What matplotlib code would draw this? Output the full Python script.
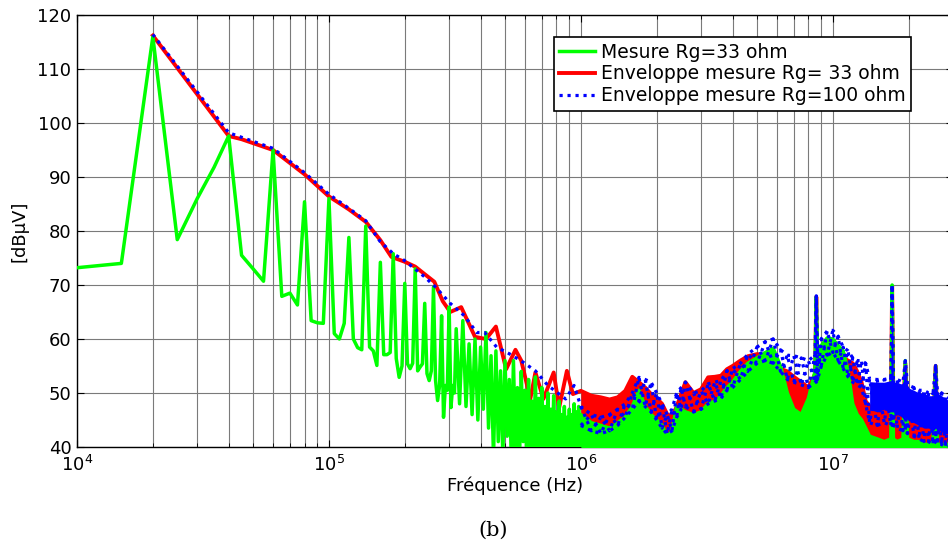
import numpy as np
import matplotlib
matplotlib.use("Agg")
import matplotlib.pyplot as plt
from matplotlib.ticker import LogLocator, FuncFormatter, NullFormatter, MultipleLocator

# --- Mesure Rg=33 ohm, basse fréquence (pas 5 kHz) : kHz / dBµV
f_mes_a = [10, 15, 20, 25, 30, 35, 40, 45, 50, 55, 60, 65, 70, 75, 80, 85, 90, 95,
           100, 105, 110, 115, 120, 125, 130, 135, 140, 145, 150, 155, 160, 165, 170,
           175, 180, 185, 190, 195, 200, 205, 210, 215, 220, 225, 230, 235, 240, 245,
           250, 255, 260, 265, 270, 275, 280, 285, 290, 295, 300, 305, 310, 315, 320]
v_mes_a = [73.2, 74.0, 116.0, 78.4, 86.0, 91.8, 97.6, 75.5, 73.0, 70.7, 95.0, 67.9,
           68.5, 66.3, 85.4, 63.4, 63.0, 62.9, 86.0, 61.0, 60.0, 62.9, 78.8, 60.0, 58.4,
           58.0, 80.9, 58.5, 57.8, 55.1, 74.2, 57.1, 57.1, 57.5, 75.8, 56.4, 52.9, 55.0,
           70.3, 55.4, 54.5, 55.5, 73.0, 54.1, 54.8, 55.4, 66.6, 53.6, 52.3, 54.1, 69.6,
           52.3, 48.6, 51.4, 64.3, 45.5, 51.4, 50.5, 65.9, 47.3, 51.4, 50.0, 61.9]

# --- Mesure Rg=33 ohm, 330 kHz - 1 MHz (creux / pics) : kHz / dBµV
f_mes_b = [330, 340, 350, 360, 370, 380, 390, 400, 410, 420, 430, 440, 450, 460, 470,
           480, 490, 500, 510, 520, 530, 540, 550, 560, 570, 580, 590, 600, 610, 620,
           630, 640, 650, 660, 670, 680, 690, 700, 710, 720, 730, 740, 750, 760, 770,
           780, 790, 800, 810, 820, 830, 840, 850, 860, 870, 880, 890, 900, 910, 920,
           930, 940, 950, 960, 970, 980, 990]
v_mes_b = [48.0, 63.4, 47.5, 59.1, 46.0, 60.0, 45.0, 58.5, 47.0, 61.2, 43.5, 56.9,
           38.0, 57.8, 41.0, 54.1, 38.5, 56.0, 42.0, 52.5, 37.0, 56.0, 40.0, 51.0,
           36.0, 54.0, 41.0, 50.5, 37.0, 52.5, 35.0, 48.5, 38.0, 53.0, 36.0, 49.0,
           38.5, 51.0, 36.0, 47.5, 37.5, 50.0, 35.5, 47.0, 38.0, 49.5, 36.0, 46.5,
           38.0, 48.5, 36.0, 46.0, 39.0, 47.5, 37.0, 45.5, 38.5, 47.0, 37.0, 46.0,
           39.0, 48.0, 37.5, 46.5, 38.0, 47.5, 38.5]

# --- Enveloppe Rg=33 ohm, basse fréquence : kHz / dBµV
f_env33 = [20, 40, 45, 60, 80, 100, 120, 140, 160, 177, 200, 220, 240, 262, 283, 303,
           335, 380, 420, 460, 505, 550, 580, 630, 660, 710, 780, 820, 880, 930]
v_env33 = [116.2, 97.6, 97.0, 95.0, 90.5, 86.4, 84.0, 81.7, 78.3, 75.2, 74.3, 73.4,
           72.0, 70.6, 67.0, 65.0, 65.9, 60.4, 60.0, 62.3, 54.4, 58.0, 56.0, 48.9,
           53.8, 48.9, 53.8, 47.3, 54.1, 49.8]

# --- Enveloppe Rg=100 ohm, basse fréquence : kHz / dBµV
f_env100 = [20, 40, 60, 80, 100, 120, 140, 160, 180, 200, 240, 265, 303, 345, 386,
            415, 463, 523, 590, 660, 740, 820, 870, 940]
v_env100 = [116.4, 98.2, 95.3, 90.8, 86.8, 84.2, 81.9, 78.0, 75.8, 74.5, 71.5, 69.6,
            66.6, 64.3, 61.2, 61.2, 58.5, 57.2, 55.7, 54.1, 51.4, 49.8, 48.9, 51.4]

# --- Haute fréquence (spectre dense) : MHz, bornes haute/basse en dBµV
f_hf = [1.0, 1.1, 1.2, 1.3, 1.4, 1.5, 1.6, 1.7, 1.8, 1.9, 2.0, 2.1, 2.2, 2.3, 2.4,
        2.5, 2.6, 2.8, 3.0, 3.2, 3.4, 3.6, 3.8, 4.0, 4.3, 4.6, 5.0, 5.4, 5.8, 6.2,
        6.6, 7.0, 7.5, 8.0, 8.5, 8.6, 8.7, 9.0, 9.5, 10, 10.5, 11, 11.5, 12, 12.5,
        13, 13.5, 14, 15, 16, 17, 17.2, 17.4, 18, 19, 19.4, 19.8, 21, 22, 23, 24,
        25, 25.6, 26, 27, 28, 29, 30]
mes_top = [46.0, 44.5, 44.0, 43.5, 44.5, 45.5, 47.5, 50.5, 47.5, 46.0, 45.0, 44.0,
           42.0, 43.0, 47.5, 47.0, 46.5, 46.0, 46.5, 48.0, 48.5, 49.5, 51.0, 52.0,
           54.0, 55.5, 56.5, 57.5, 58.3, 55.0, 50.0, 47.0, 46.0, 49.0, 54.0, 67.8,
           56.0, 58.8, 60.2, 60.0, 58.8, 57.8, 54.0, 48.0, 46.0, 45.0, 43.5, 42.0,
           41.5, 41.0, 41.5, 70.0, 41.5, 41.0, 41.5, 56.0, 41.5, 41.0, 41.0, 40.5,
           40.5, 41.0, 55.0, 40.5, 40.5, 40.5, 40.5, 40.5]
env33_top = [50.4, 49.5, 49.2, 48.8, 49.2, 50.4, 53.0, 52.0, 51.0, 49.8, 49.0, 48.0,
             46.1, 45.5, 47.5, 49.8, 52.0, 50.0, 50.7, 52.9, 53.0, 53.2, 54.4, 55.0,
             56.0, 56.8, 57.2, 57.0, 56.0, 54.5, 54.0, 53.0, 52.0, 51.0, 53.5, 67.8,
             53.5, 55.0, 56.6, 55.5, 55.0, 56.5, 56.0, 55.5, 54.0, 52.0, 48.5, 47.5,
             47.5, 47.5, 47.5, 69.8, 47.5, 47.0, 46.5, 55.5, 46.0, 45.5, 45.0, 44.5,
             44.0, 44.0, 55.0, 44.0, 43.5, 43.5, 43.5, 43.5]
env33_bot = [44.0, 43.0, 42.5, 43.0, 44.0, 45.0, 46.0, 47.0, 46.5, 45.0, 44.0, 43.5,
             42.0, 41.5, 42.5, 44.0, 45.5, 45.0, 45.5, 46.5, 47.0, 47.5, 48.0, 49.0,
             50.0, 51.0, 51.0, 50.0, 48.5, 47.0, 46.0, 45.0, 44.5, 44.0, 45.0, 46.0,
             45.0, 46.5, 48.0, 47.5, 46.5, 45.0, 43.5, 42.0, 41.0, 40.0, 39.0, 39.0,
             39.0, 39.0, 39.0, 39.0, 39.0, 39.0, 39.0, 39.0, 39.0, 39.0, 39.0, 39.0,
             39.0, 39.0, 39.0, 39.0, 39.0, 39.0, 39.0, 39.0]
env100_top = [47.5, 46.0, 45.5, 46.0, 47.0, 48.0, 50.0, 52.9, 52.5, 52.0, 50.0, 48.0,
              46.0, 47.0, 50.0, 51.0, 52.0, 50.0, 50.4, 51.7, 52.0, 52.3, 54.1, 54.5,
              55.5, 57.2, 58.5, 59.5, 60.0, 58.0, 57.0, 56.9, 56.5, 56.0, 57.0, 68.0,
              57.5, 60.0, 61.5, 61.6, 60.5, 58.5, 57.8, 56.5, 56.0, 56.0, 55.5, 52.6,
              52.5, 52.5, 52.8, 70.0, 52.5, 52.5, 52.0, 56.0, 51.5, 51.0, 50.5, 50.5,
              50.0, 50.0, 55.1, 50.5, 50.0, 49.5, 49.0, 49.0]
env100_bot = [44.0, 43.0, 42.5, 43.0, 44.0, 45.5, 47.0, 48.5, 47.5, 46.5, 45.0, 43.5,
              42.4, 43.0, 45.5, 47.0, 47.5, 46.5, 47.0, 48.0, 48.5, 49.0, 50.5, 51.0,
              52.5, 54.0, 55.5, 56.0, 55.5, 54.0, 52.5, 52.0, 51.5, 51.0, 52.0, 52.0,
              52.5, 55.0, 57.0, 57.5, 56.0, 54.5, 53.0, 52.0, 51.5, 51.0, 48.0, 44.5,
              44.0, 44.5, 44.0, 44.0, 44.0, 43.5, 43.0, 43.0, 42.5, 42.0, 41.5, 41.0,
              41.0, 40.5, 41.0, 40.5, 40.5, 40.0, 40.0, 40.0]

legend_labels = ['Mesure Rg=33 ohm', 'Enveloppe mesure Rg= 33 ohm',
                 'Enveloppe mesure Rg=100 ohm']

GREEN, RED, BLUE = '#00ff00', '#ff0000', '#0000ff'
DOTS = (0, (1, 1.5))

plt.rcParams['font.family'] = ['DejaVu Sans']

fig = plt.figure(figsize=(9.48, 5.44), dpi=100)
ax = fig.add_axes([77 / 948, 1 - 447 / 544, 876 / 948, 432 / 544])

f_hf_hz = np.array(f_hf) * 1e6
n_hf = len(f_hf)

# Enveloppe Rg=33 ohm (sous la mesure)
f_e33 = np.concatenate([np.array(f_env33) * 1e3, f_hf_hz])
v_e33 = np.concatenate([v_env33, env33_top])
l2, = ax.plot(f_e33, v_e33, color=RED, lw=2.8, zorder=2)
ax.fill_between(f_hf_hz, env33_bot, env33_top, color=RED, lw=0, zorder=2)

# Mesure Rg=33 ohm
f_mes = np.concatenate([np.array(f_mes_a) * 1e3, np.array(f_mes_b) * 1e3, f_hf_hz])
v_mes = np.concatenate([v_mes_a, v_mes_b, mes_top])
l1, = ax.plot(f_mes, v_mes, color=GREEN, lw=2.5, zorder=3)
ax.fill_between(f_hf_hz, 30, mes_top, color=GREEN, lw=0, zorder=3)

# Enveloppe Rg=100 ohm (pointillés)
f_e100 = np.concatenate([np.array(f_env100) * 1e3, f_hf_hz])
v_e100 = np.concatenate([v_env100, env100_top])
l3, = ax.plot(f_e100, v_e100, color=BLUE, lw=2.3, ls=DOTS, zorder=4)
ax.plot(f_hf_hz, env100_bot, color=BLUE, lw=2.3, ls=DOTS, zorder=4)
top = np.array(env100_top)
bot = np.array(env100_bot)
even = np.arange(n_hf) % 2 == 0
ax.plot(f_hf_hz, np.where(even, top, bot), color=BLUE, lw=2.3, ls=DOTS, zorder=4)
ax.plot(f_hf_hz, np.where(even, bot, top), color=BLUE, lw=2.3, ls=DOTS, zorder=4)
cloud = f_hf_hz >= 13.8e6
ax.fill_between(f_hf_hz[cloud], bot[cloud] + 2.5, top[cloud] - 0.5, color=BLUE, lw=0, zorder=4)

ax.set_xscale('log')
ax.set_xlim(1e4, 3e7)
ax.set_ylim(40, 120)
ax.yaxis.set_major_locator(MultipleLocator(10))
ax.xaxis.set_major_locator(LogLocator(base=10, numticks=10))
ax.xaxis.set_minor_locator(LogLocator(base=10, subs=np.arange(2, 10), numticks=20))
ax.xaxis.set_major_formatter(FuncFormatter(lambda v, p: r'$\mathregular{10^{%d}}$' % round(np.log10(v))))
ax.xaxis.set_minor_formatter(NullFormatter())

ax.set_axisbelow(True)
ax.grid(True, which='major', color='#7a7a7a', lw=0.8)
ax.grid(True, which='minor', axis='x', color='#7a7a7a', lw=0.8)
ax.tick_params(which='both', direction='in', top=True, right=True, labelsize=13)
ax.tick_params(which='major', length=5, pad=4)
ax.tick_params(axis='x', which='major', pad=6)
ax.tick_params(which='minor', length=3)
for s in ax.spines.values():
    s.set_linewidth(1.0)

ax.set_xlabel('Fréquence (Hz)', fontsize=13, labelpad=1)
ax.set_ylabel('[dBµV]', fontsize=13, labelpad=6)

leg = ax.legend([l1, l2, l3], legend_labels, loc='upper right',
                bbox_to_anchor=(911 / 948, 1 - 37 / 544), bbox_transform=fig.transFigure,
                fontsize=13.5, frameon=True, fancybox=False, framealpha=1,
                edgecolor='black', handlelength=1.9, handletextpad=0.3,
                borderpad=0.3, labelspacing=0.15, borderaxespad=0)
leg.get_frame().set_linewidth(1.2)

fig.text(493 / 948, 1 - 530 / 544, '(b)', ha='center', va='center',
         family='DejaVu Serif', fontsize=15)

fig.savefig('out.png', dpi=100)
